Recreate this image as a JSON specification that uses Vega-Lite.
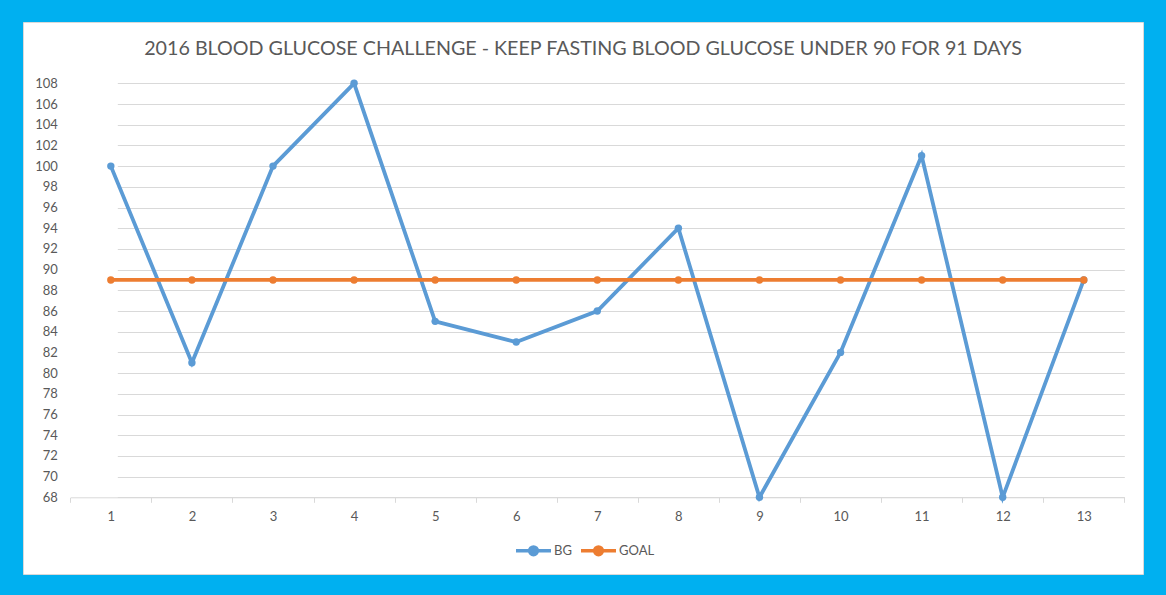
{
  "$schema": "https://vega.github.io/schema/vega-lite/v6.json",
  "width": 1120,
  "height": 552,
  "autosize": {"type": "none"},
  "padding": {"left": 23, "top": 22, "right": 23, "bottom": 21},
  "background": "#00B0F0",
  "config": {
    "view": {"fill": "white", "stroke": "#D9D9D9", "strokeWidth": 1},
    "font": "Lato"
  },
  "title": {
    "text": "2016 BLOOD GLUCOSE CHALLENGE - KEEP FASTING BLOOD GLUCOSE UNDER 90 FOR 91 DAYS",
    "font": "Lato",
    "fontSize": 19.7,
    "fontWeight": "normal",
    "color": "#595959",
    "anchor": "middle",
    "frame": "group",
    "baseline": "alphabetic",
    "offset": -53
  },
  "data": {
    "values": [
      {"day": 1, "series": "BG", "value": 100},
      {"day": 2, "series": "BG", "value": 81},
      {"day": 3, "series": "BG", "value": 100},
      {"day": 4, "series": "BG", "value": 108},
      {"day": 5, "series": "BG", "value": 85},
      {"day": 6, "series": "BG", "value": 83},
      {"day": 7, "series": "BG", "value": 86},
      {"day": 8, "series": "BG", "value": 94},
      {"day": 9, "series": "BG", "value": 68},
      {"day": 10, "series": "BG", "value": 82},
      {"day": 11, "series": "BG", "value": 101},
      {"day": 12, "series": "BG", "value": 68},
      {"day": 13, "series": "BG", "value": 89},
      {"day": 1, "series": "GOAL", "value": 89},
      {"day": 2, "series": "GOAL", "value": 89},
      {"day": 3, "series": "GOAL", "value": 89},
      {"day": 4, "series": "GOAL", "value": 89},
      {"day": 5, "series": "GOAL", "value": 89},
      {"day": 6, "series": "GOAL", "value": 89},
      {"day": 7, "series": "GOAL", "value": 89},
      {"day": 8, "series": "GOAL", "value": 89},
      {"day": 9, "series": "GOAL", "value": 89},
      {"day": 10, "series": "GOAL", "value": 89},
      {"day": 11, "series": "GOAL", "value": 89},
      {"day": 12, "series": "GOAL", "value": 89},
      {"day": 13, "series": "GOAL", "value": 89}
    ]
  },
  "mark": {
    "type": "line",
    "strokeWidth": 3.8,
    "point": {"filled": true, "size": 55}
  },
  "encoding": {
    "x": {
      "field": "day",
      "type": "ordinal",
      "scale": {"range": [47.3, 1101.3], "paddingInner": 0, "paddingOuter": 0},
      "axis": {
        "title": null,
        "orient": "bottom",
        "offset": -76.7,
        "labelAngle": 0,
        "tickBand": "extent",
        "tickSize": 5,
        "tickColor": "#D9D9D9",
        "domainColor": "#D9D9D9",
        "domainWidth": 1,
        "labelFont": "Lato",
        "labelFontSize": 13,
        "labelColor": "#595959",
        "labelPadding": 8,
        "grid": false
      }
    },
    "y": {
      "field": "value",
      "type": "quantitative",
      "scale": {"domain": [68, 108], "range": [475.3, 61.3], "nice": false, "zero": false},
      "axis": {
        "title": null,
        "orient": "left",
        "offset": -47.3,
        "values": [68, 70, 72, 74, 76, 78, 80, 82, 84, 86, 88, 90, 92, 94, 96, 98, 100, 102, 104, 106, 108],
        "domain": false,
        "ticks": false,
        "labelFont": "Lato",
        "labelFontSize": 13,
        "labelColor": "#595959",
        "labelPadding": 13,
        "grid": true,
        "gridColor": "#D9D9D9",
        "gridWidth": 1,
        "gridDash": [1054, 66],
        "gridDashOffset": 1073
      }
    },
    "color": {
      "field": "series",
      "type": "nominal",
      "scale": {"domain": ["BG", "GOAL"], "range": ["#5B9BD5", "#ED7D31"]},
      "legend": {
        "title": null,
        "orient": "none",
        "legendX": 491,
        "legendY": 509,
        "direction": "horizontal",
        "symbolType": "M-1,0L1,0M0.22,0A0.22,0.22 0 1,1 -0.22,0A0.22,0.22 0 1,1 0.22,0Z",
        "symbolSize": 1225,
        "symbolStrokeWidth": 3.5,
        "labelFont": "Lato",
        "labelFontSize": 13,
        "labelColor": "#595959",
        "labelOffset": 1,
        "columnPadding": 2,
        "encode": {
          "symbols": {"update": {"fill": {"scale": "color", "field": "value"}, "stroke": {"scale": "color", "field": "value"}}}
        }
      }
    }
  }
}
